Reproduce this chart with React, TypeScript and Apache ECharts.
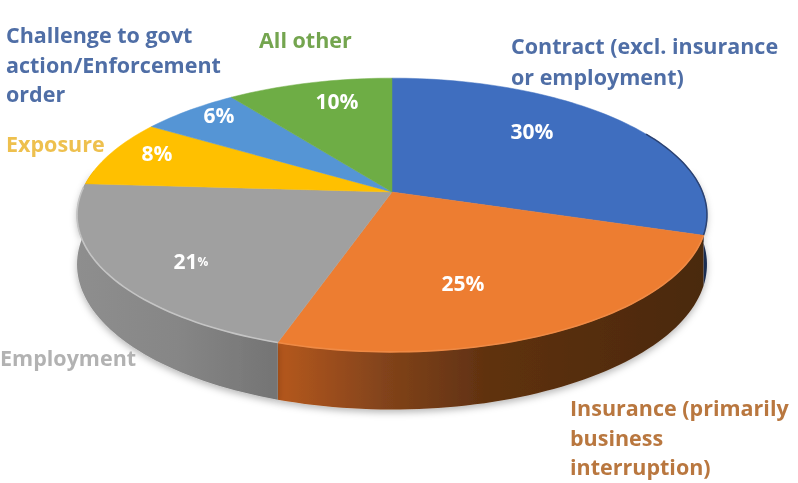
import React, { useEffect, useRef } from "react";
import * as echarts from "echarts";

const categories = ["Contract (excl. insurance or employment)", "Insurance (primarily business interruption)", "Employment", "Exposure", "Challenge to govt action/Enforcement order", "All other"];
const shares = [30, 25, 21, 8, 6, 10];
const topColors = ["#3f6ebf", "#ed7d31", "#a0a0a0", "#ffc000", "#5595d5", "#6ead45"];
const wallStops: [number, string][][] = [
  [[0, "#2a4a85"], [1, "#1c2f55"]],
  [[0, "#b5581c"], [0.25, "#82431a"], [0.5, "#5f3110"], [1, "#4a290e"]],
  [[0, "#8e8e8e"], [0.5, "#868686"], [1, "#747474"]],
  [[0, "#a67c00"], [1, "#a67c00"]],
  [[0, "#3a6390"], [1, "#3a6390"]],
  [[0, "#4a7530"], [1, "#4a7530"]],
];

const categoryLabels: { lines: string[]; x: number; y: number[]; color: string }[] = [
  { lines: ["Contract (excl. insurance", "or employment)"], x: 511, y: [45, 76], color: "#4f6ea6" },
  { lines: ["Insurance (primarily", "business", "interruption)"], x: 570, y: [407, 437, 466], color: "#b9773f" },
  { lines: ["Employment"], x: 0, y: [357], color: "#b2b2b2" },
  { lines: ["Exposure"], x: 6, y: [143], color: "#eec04e" },
  { lines: ["Challenge to govt", "action/Enforcement", "order"], x: 6, y: [34, 64, 93], color: "#4f6ea6" },
  { lines: ["All other"], x: 259, y: [39], color: "#74a54f" },
];
const percentAnchors = [[532, 131], [463, 283], [191, 261], [157, 153], [219, 115], [337, 101]];

// perspective view of the pie's disc
const CX = 392, CY = 192, A = 310.5, B = 133, K = 0.168, DEPTH = 48;
const FONT = "'Open Sans', sans-serif";

const project = (deg: number, r = 1, drop = 0): number[] => {
  const t = (deg * Math.PI) / 180;
  const u = r * Math.sin(t), v = -r * Math.cos(t);
  const d = 1 - K * v;
  return [CX + (A * u) / d, CY + (B * v + drop) / d];
};
const arc = (from: number, to: number, drop = 0): number[][] => {
  const n = Math.max(2, Math.ceil(Math.abs(to - from) / 1.5));
  const pts: number[][] = [];
  for (let i = 0; i <= n; i++) pts.push(project(from + ((to - from) * i) / n, 1, drop));
  return pts;
};

const total = shares.reduce((a, b) => a + b, 0);
const cumulative = shares.map((_, i) => shares.slice(0, i).reduce((a, b) => a + b, 0));
const seriesData = shares.map((v, i) => ({ name: categories[i], value: [v, cumulative[i], i] }));

// the side wall shows only between these angles (silhouette of the disc)
const WALL_FROM = (Math.acos(K) * 180) / Math.PI;
const WALL_TO = 360 - WALL_FROM;

const renderTop = (_: any, api: any) => {
  const v = api.value(0), c = api.value(1), i = api.value(2);
  const a0 = (c / total) * 360, a1 = ((c + v) / total) * 360;
  const children: any[] = [
    {
      type: "polygon",
      shape: { points: [[CX, CY], ...arc(a0, a1)] },
      style: { fill: topColors[i], stroke: topColors[i], lineWidth: 0.5 },
    },
  ];
  if (i === 0) {
    children.push({
      type: "polyline",
      shape: { points: arc(62, a1) },
      style: { fill: "none", stroke: "#2b4272", lineWidth: 1.5 },
    });
  } else if (i === 1 || i === 2) {
    children.push({
      type: "polyline",
      shape: { points: arc(a0, Math.min(a1, 272)) },
      style: { fill: "none", stroke: i === 2 ? "#c4c4c4" : "#ef8a45", lineWidth: 1.6 },
    });
  }
  return { type: "group", children };
};

const renderWall = (_: any, api: any) => {
  const v = api.value(0), c = api.value(1), i = api.value(2);
  const a0 = Math.max((c / total) * 360, WALL_FROM), a1 = Math.min(((c + v) / total) * 360, WALL_TO);
  if (a1 <= a0) return { type: "group", children: [] };
  return {
    type: "polygon",
    shape: { points: [...arc(a0, a1), ...arc(a1, a0, DEPTH)] },
    style: {
      fill: new echarts.graphic.LinearGradient(0, 0, 1, 0, wallStops[i].map(([offset, color]) => ({ offset, color }))),
      shadowBlur: 7,
      shadowOffsetY: 3,
      shadowColor: "rgba(0,0,0,0.28)",
    },
  };
};

const texts: any[] = [];
categoryLabels.forEach((l) =>
  l.lines.forEach((line, n) =>
    texts.push({
      type: "text",
      x: l.x,
      y: l.y[n],
      z: 10,
      style: { text: line, fill: l.color, font: `bold 21.5px ${FONT}`, verticalAlign: "middle" },
    })
  )
);
shares.forEach((v, i) =>
  texts.push({
    type: "text",
    x: percentAnchors[i][0],
    y: percentAnchors[i][1],
    z: 10,
    style: {
      text: i === 2 ? `{n|${v}}{p|%}` : `${v}%`,
      rich: { n: { fill: "#fff", font: `bold 21px ${FONT}` }, p: { fill: "#fff", font: `bold 12px ${FONT}` } },
      fill: "#fff",
      font: `bold 21px ${FONT}`,
      align: "center",
      verticalAlign: "middle",
    },
  })
);

export default function App() {
  const ref = useRef<HTMLDivElement>(null);
  useEffect(() => {
    document.body.style.margin = "0";
    const chart = echarts.init(ref.current!, undefined, { renderer: "svg" });
    chart.setOption({
      animation: false,
      backgroundColor: "#ffffff",
      series: [
        { type: "custom", coordinateSystem: "none", renderItem: renderWall, data: seriesData, z: 1, silent: true },
        { type: "custom", coordinateSystem: "none", renderItem: renderTop, data: seriesData, z: 2, silent: true },
      ],
      graphic: { elements: texts },
    });
    return () => chart.dispose();
  }, []);
  return <div ref={ref} style={{ width: 798, height: 483, filter: "blur(0.7px)" }} />;
}
